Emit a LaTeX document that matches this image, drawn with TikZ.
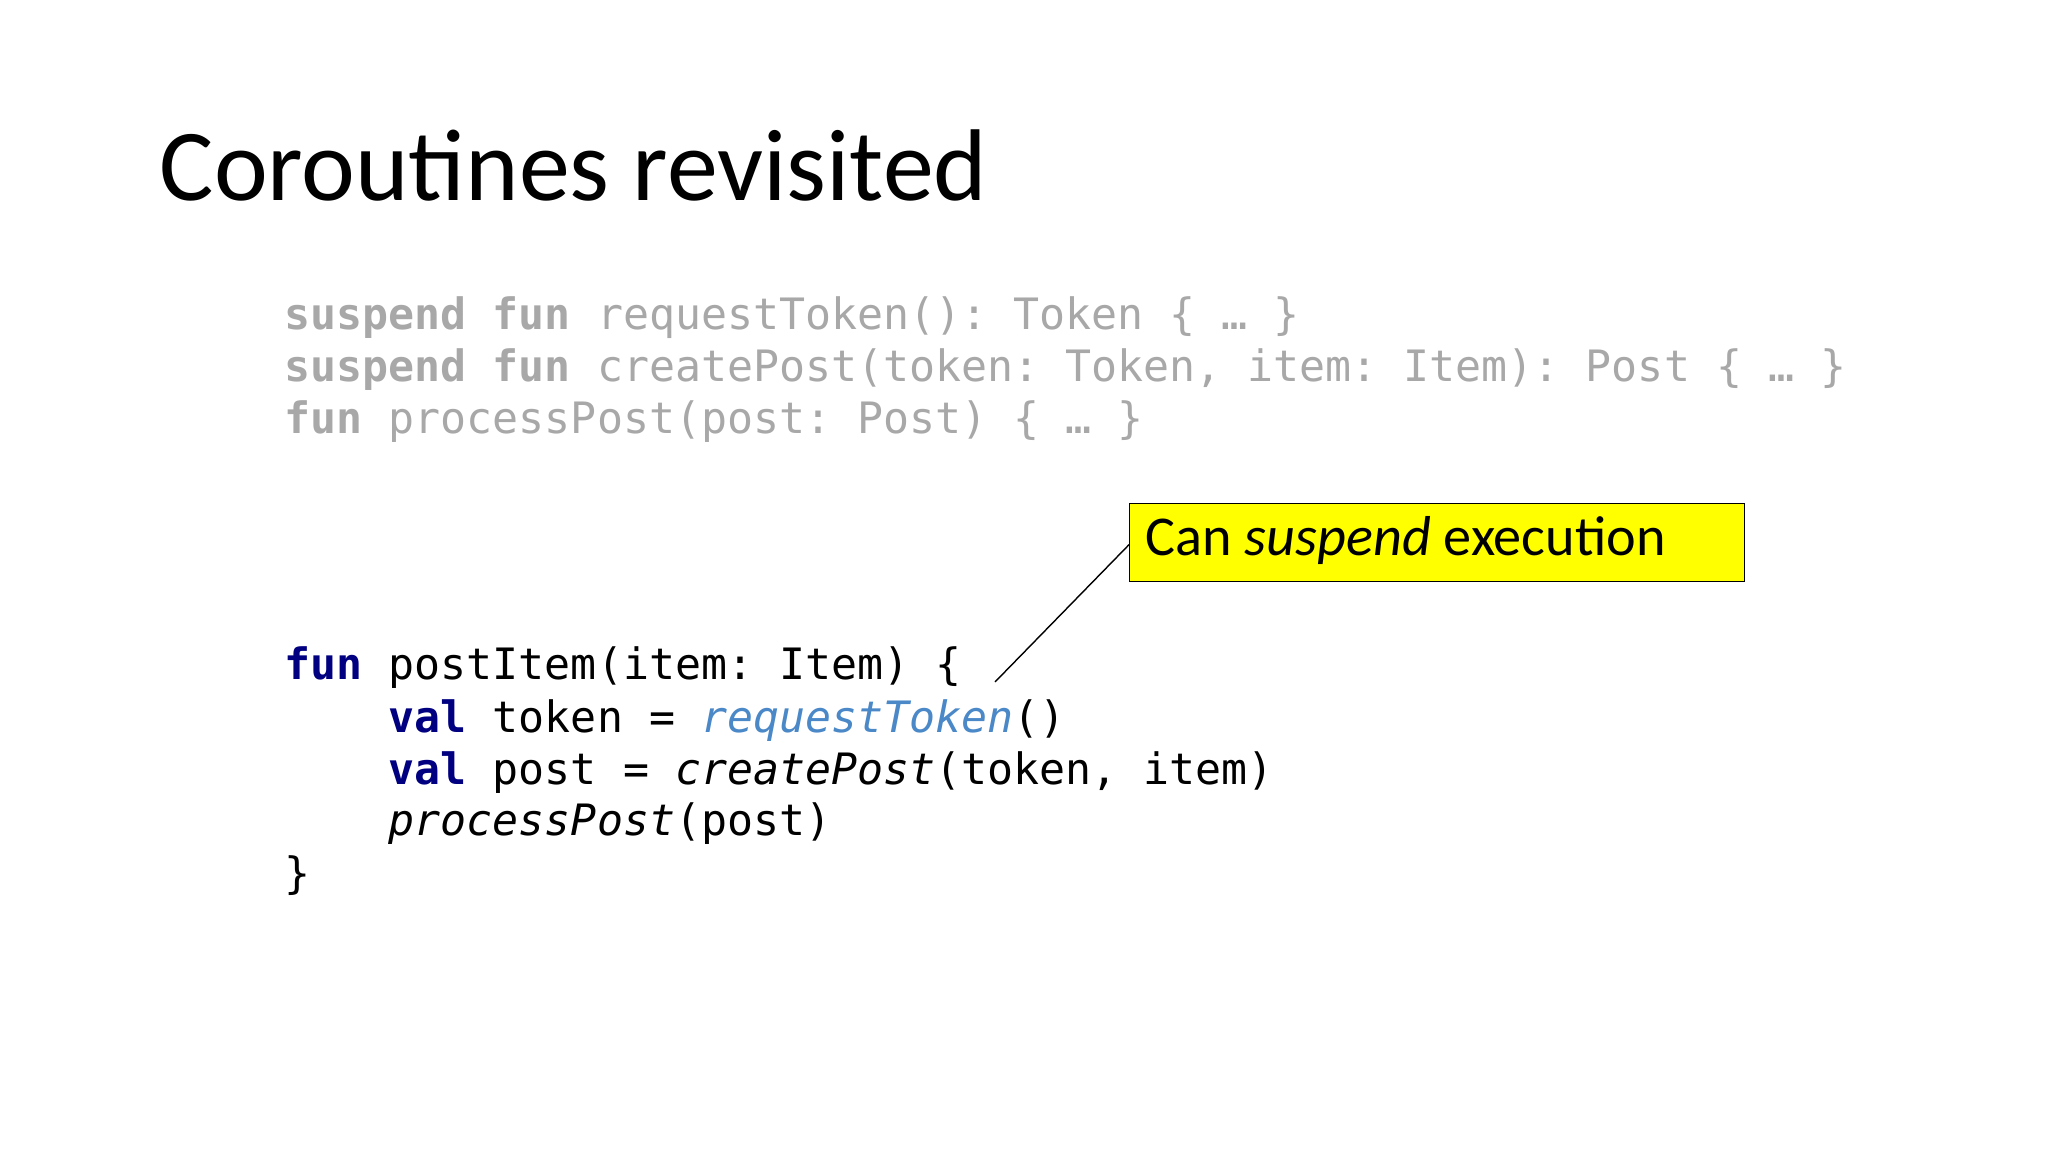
\documentclass[tikz,border=0pt]{standalone}
\usepackage{fontspec}
\setmainfont{Carlito}
\setmonofont{DejaVu Sans Mono}
\definecolor{gr}{HTML}{A8A8A8}
\definecolor{kw}{HTML}{000080}
\definecolor{fn}{HTML}{4A88C8}
\definecolor{yl}{HTML}{FFFF00}
\begin{document}
\begin{tikzpicture}[x=1cm,y=-1cm,
  code/.style={anchor=base west,inner sep=0pt,font=\ttfamily\fontsize{12.3}{14}\selectfont}]
\useasboundingbox (0,0) rectangle (20.48,11.52);
\fill[white] (0,0) rectangle (20.48,11.52);
\node[anchor=base west,inner sep=0pt,font=\fontsize{29}{34}\selectfont\addfontfeature{}] (title) at (1.59,2.01) {Coroutines revisited};
\begin{scope}[text=gr]
\node[code,text=gr] (l1) at (2.84,3.30) {\textbf{suspend fun} requestToken(): Token \{ … \}};
\node[code,text=gr] (l2) at (2.84,3.82) {\textbf{suspend fun} createPost(token: Token, item: Item): Post \{ … \}};
\node[code,text=gr] (l3) at (2.84,4.34) {\textbf{fun} processPost(post: Post) \{ … \}};
\end{scope}
\node[code] (m1) at (2.84,6.80) {\textcolor{kw}{\textbf{fun}} postItem(item: Item) \{};
\node[code] (m2) at (2.84,7.32) {\phantom{xxxx}\textcolor{kw}{\textbf{val}} token = \textcolor{fn}{\textit{requestToken}}()};
\node[code] (m3) at (2.84,7.84) {\phantom{xxxx}\textcolor{kw}{\textbf{val}} post = \textit{createPost}(token, item)};
\node[code] (m4) at (2.84,8.36) {\phantom{xxxx}\textit{processPost}(post)};
\node[code] (m5) at (2.84,8.88) {\}};
\node[draw=black,fill=yl,minimum width=6.15cm,minimum height=0.78cm,anchor=north west,inner sep=0pt] (box) at (11.29,5.03) {};
\node[anchor=base west,inner sep=0pt,font=\fontsize{16}{19}\selectfont] (bt) at (11.45,5.56) {Can \textit{suspend} execution};
\coordinate (tip) at (9.95,6.82);
\draw[black,thin] (box.west) ++(0,0.02) -- (tip);
\end{tikzpicture}
\end{document}
